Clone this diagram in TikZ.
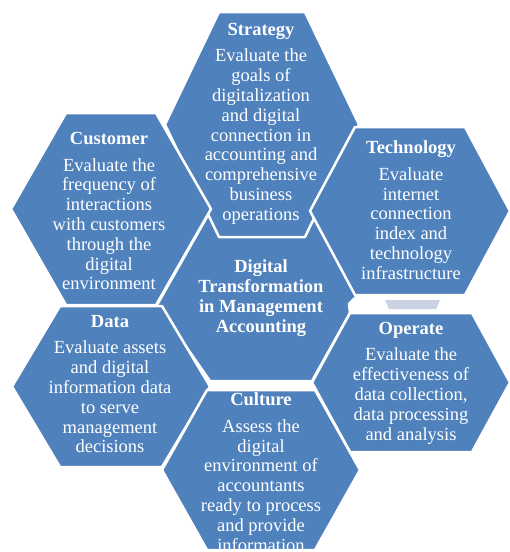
\documentclass[tikz,border=0pt]{standalone}
\usepackage{fontspec}
\setmainfont{Liberation Serif}
\usepackage{tikz}
\usetikzlibrary{positioning}

\definecolor{cellblue}{RGB}{79,129,189}
\definecolor{cellgrey}{RGB}{201,209,226}
\tikzset{
  cell/.style={fill=cellblue, draw=white, line width=2.5pt, line join=round},
  celltext/.style={text=white, align=center, font=\fontsize{18.5}{19.8}\selectfont},
}
% hexagon cell: centre x, centre y, half width, half top edge, half height
\newcommand{\hexcell}[5]{%
  \draw[cell] ({#1-#3},#2) -- ({#1-#4},{#2-#5}) -- ({#1+#4},{#2-#5})
    -- ({#1+#3},#2) -- ({#1+#4},{#2+#5}) -- ({#1-#4},{#2+#5}) -- cycle;}

\begin{document}
\begin{tikzpicture}[x=1pt, y=-1pt]
      \useasboundingbox (0,0) rectangle (510,552);

      % middle cell, mostly hidden by the outer ones
      \draw[cell] (157,305) -- (212,208) -- (310,210) -- (358,295) -- (349,304)
        -- (350,313) -- (312,381) -- (210,381) -- cycle;

      \hexcell{262}{124.5}{97}{43}{112.5}   % strategy
      \hexcell{111}{209}{100}{45}{96}       % customer
      \hexcell{410}{211}{100}{55}{84}       % technology
      \hexcell{111}{386.5}{99}{51}{80.5}    % data
      \hexcell{411}{382.5}{99}{61}{69.5}    % operate
      \hexcell{261}{470}{99}{54}{80}        % culture

      \fill[cellgrey] (385,300) -- (440,300) -- (436,309) -- (389,309) -- cycle;

      \node[celltext] (StratN) at (261,123.5) {\textbf{Strategy}\\[7pt]
        Evaluate the\\goals of\\digitalization\\and digital\\connection in\\
        accounting and\\comprehensive\\business\\operations};
      \node[celltext] (CustN)  at (109,211) {\textbf{Customer}\\[7pt]
        Evaluate the\\frequency of\\interactions\\with customers\\through the\\
        digital\\environment};
      \node[celltext] (TechN)  at (411,210) {\textbf{Technology}\\[7pt]
        Evaluate\\internet\\connection\\index and\\technology\\infrastructure};
      \node[celltext] (DigN)   at (261,298) {\textbf{Digital}\\\textbf{Transformation}\\
        \textbf{in Management}\\\textbf{Accounting}};
      \node[celltext] (DataN)  at (110,384) {\textbf{Data}\\[7pt]
        Evaluate assets\\and digital\\information data\\to serve\\management\\decisions};
      \node[celltext] (OperN)  at (411,383) {\textbf{Operate}\\[7pt]
        Evaluate the\\effectiveness of\\data collection,\\data processing\\and analysis};
      \node[celltext] (CultN)  at (261,472) {\textbf{Culture}\\[7pt]
        Assess the\\digital\\environment of\\accountants\\ready to process\\
        and provide\\information};
\end{tikzpicture}
\end{document}
